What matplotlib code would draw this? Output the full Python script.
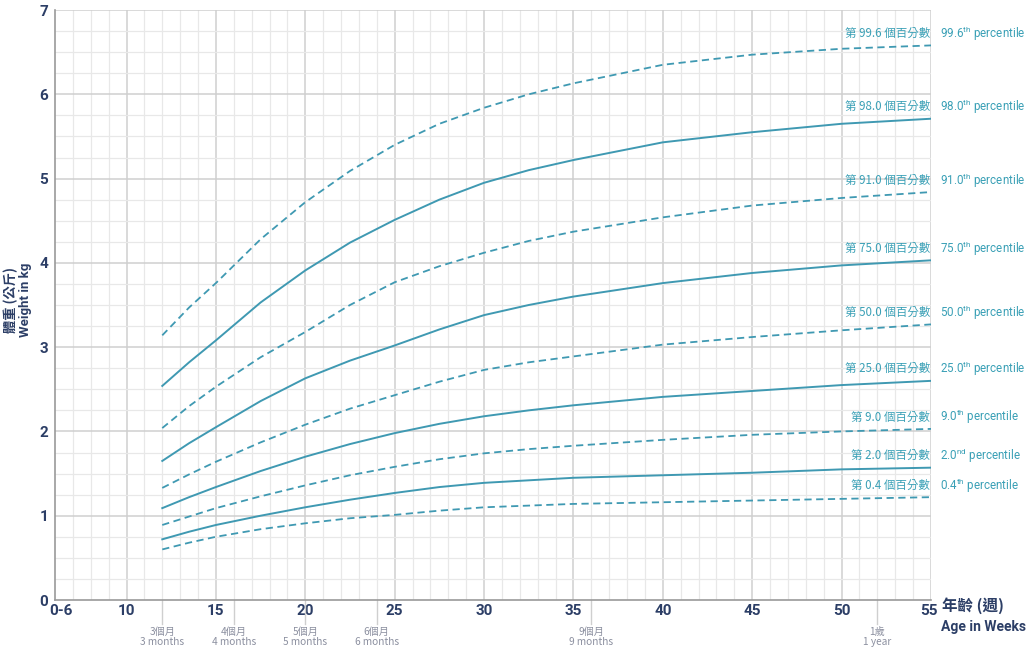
import matplotlib
matplotlib.use("Agg")
import matplotlib.pyplot as plt
import matplotlib.transforms as mtransforms

plt.rcParams['font.family'] = ['Noto Sans CJK TC', 'DejaVu Sans']
plt.rcParams['mathtext.fontset'] = 'custom'
plt.rcParams['mathtext.rm'] = 'Roboto'

# ---- data ----
weeks = [12, 13.5, 15, 17.5, 20, 22.5, 25, 27.5, 30, 32.5, 35, 40, 45, 50, 55]
p99_6 = [3.14, 3.47, 3.76, 4.28, 4.72, 5.09, 5.40, 5.65, 5.84, 6.00, 6.13, 6.35, 6.47, 6.54, 6.58]
p98_0 = [2.54, 2.82, 3.08, 3.53, 3.91, 4.24, 4.51, 4.75, 4.95, 5.10, 5.22, 5.43, 5.55, 5.65, 5.71]
p91_0 = [2.04, 2.30, 2.53, 2.88, 3.18, 3.50, 3.77, 3.96, 4.12, 4.26, 4.37, 4.54, 4.68, 4.77, 4.84]
p75_0 = [1.65, 1.86, 2.05, 2.36, 2.63, 2.84, 3.02, 3.21, 3.38, 3.50, 3.60, 3.76, 3.88, 3.97, 4.03]
p50_0 = [1.33, 1.49, 1.64, 1.87, 2.08, 2.27, 2.43, 2.59, 2.73, 2.82, 2.89, 3.03, 3.12, 3.20, 3.27]
p25_0 = [1.09, 1.22, 1.34, 1.53, 1.70, 1.85, 1.98, 2.09, 2.18, 2.25, 2.31, 2.41, 2.48, 2.55, 2.60]
p9_0 = [0.89, 0.99, 1.09, 1.23, 1.36, 1.48, 1.58, 1.67, 1.74, 1.79, 1.83, 1.90, 1.96, 2.00, 2.03]
p2_0 = [0.72, 0.81, 0.89, 1.00, 1.10, 1.19, 1.27, 1.34, 1.39, 1.42, 1.45, 1.48, 1.51, 1.55, 1.57]
p0_4 = [0.60, 0.68, 0.75, 0.84, 0.91, 0.97, 1.01, 1.06, 1.10, 1.12, 1.14, 1.16, 1.18, 1.20, 1.22]

series = [p99_6, p98_0, p91_0, p75_0, p50_0, p25_0, p9_0, p2_0, p0_4]
dashed = [True, False, True, False, True, False, True, False, True]
zh_labels = ['第 99.6 個百分數', '第 98.0 個百分數', '第 91.0 個百分數', '第 75.0 個百分數',
             '第 50.0 個百分數', '第 25.0 個百分數', '第 9.0 個百分數', '第 2.0 個百分數',
             '第 0.4 個百分數']
en_nums = ['99.6', '98.0', '91.0', '75.0', '50.0', '25.0', '9.0', '2.0', '0.4']
en_sups = ['th', 'th', 'th', 'th', 'th', 'th', 'th', 'nd', 'th']

xtick_vals = [6, 10, 15, 20, 25, 30, 35, 40, 45, 50, 55]
xtick_labels = ['0-6', '10', '15', '20', '25', '30', '35', '40', '45', '50', '55']
ytick_vals = [0, 1, 2, 3, 4, 5, 6, 7]

month_weeks = [12, 16, 20, 24, 36, 52]
month_labels = ['3個月\n3 months', '4個月\n4 months', '5個月\n5 months',
                '6個月\n6 months', '9個月\n9 months', '1歲\n1 year']

# ---- style ----
line_col = '#3f99b2'
label_col = '#3aa0b6'
navy = '#2c3e66'
gray_txt = '#8c90a0'

fig = plt.figure(figsize=(10.30, 6.51), dpi=100)
ax = fig.add_axes([55 / 1030, 1 - 600 / 651, (931 - 55) / 1030, (600 - 10) / 651])
ax.set_xlim(6, 55)
ax.set_ylim(0, 7)

# grid
for w in range(7, 56):
    major = (w % 5 == 0)
    ax.axvline(w, color='#cfcfcf' if major else '#e8e8e8', lw=1.1 if major else 0.9, zorder=0)
for i in range(1, 29):
    v = i * 0.25
    major = (i % 4 == 0)
    ax.axhline(v, color='#cfcfcf' if major else '#e8e8e8', lw=1.1 if major else 0.9, zorder=0)

for s in ['top', 'right']:
    ax.spines[s].set_visible(False)
for s in ['left', 'bottom']:
    ax.spines[s].set_color('#9a9a9a')
    ax.spines[s].set_linewidth(1.2)

ax.set_xticks(xtick_vals)
ax.set_xticklabels(xtick_labels)
ax.set_yticks(ytick_vals)
ax.tick_params(axis='both', length=0, colors=navy, labelsize=11)
ax.tick_params(axis='x', pad=3)
ax.tick_params(axis='y', pad=5)
for lab in ax.get_xticklabels() + ax.get_yticklabels():
    lab.set_fontweight('bold')
    lab.set_color(navy)
    lab.set_family(['Roboto', 'DejaVu Sans'])
first = ax.get_xticklabels()[0]
first.set_transform(first.get_transform() + mtransforms.ScaledTranslation(6 / 100, 0, fig.dpi_scale_trans))
last = ax.get_xticklabels()[-1]
last.set_transform(last.get_transform() + mtransforms.ScaledTranslation(-2 / 100, 0, fig.dpi_scale_trans))

# curves
for ys, d in zip(series, dashed):
    if d:
        ax.plot(weeks, ys, color=line_col, lw=1.3, linestyle=(0, (4, 2.5)), zorder=3)
    else:
        ax.plot(weeks, ys, color=line_col, lw=1.4, zorder=3)

# right-hand labels
off_zh = mtransforms.offset_copy(ax.transData, fig=fig, x=-1, y=12, units='dots')
off_en = mtransforms.offset_copy(ax.transData, fig=fig, x=9, y=12, units='dots')
for ys, zh, num, sup in zip(series, zh_labels, en_nums, en_sups):
    yend = ys[-1]
    ax.text(weeks[-1], yend, zh, transform=off_zh, ha='right', va='center',
            fontsize=8.3, color=label_col, clip_on=False)
    ax.text(weeks[-1], yend, num + r'$^{\mathrm{' + sup + r'}}$' + ' percentile',
            transform=off_en, ha='left', va='center', fontsize=8.4,
            color=label_col, clip_on=False, family=['Roboto', 'DejaVu Sans'])

# month markers
trans = mtransforms.blended_transform_factory(ax.transData, ax.transAxes)
for w, lab in zip(month_weeks, month_labels):
    ax.plot([w, w], [0, -0.04], transform=trans, color='#cfcfcf', lw=1.0, clip_on=False)
    ax.text(w, -0.045, lab, transform=trans, ha='center', va='top', fontsize=7.3,
            color=gray_txt, linespacing=1.0)

# axis titles
fig.text(942 / 1030, 1 - 606 / 651, '年齡 (週)', ha='left', va='center',
         fontsize=11.2, fontweight='bold', color=navy)
fig.text(941 / 1030, 1 - 627 / 651, 'Age in Weeks', ha='left', va='center',
         fontsize=10.0, fontweight='bold', color=navy, family=['Roboto', 'DejaVu Sans'])
fig.text(11 / 1030, 1 - 300 / 651, '體重 (公斤)', rotation=90, ha='center', va='center',
         fontsize=9.5, fontweight='bold', color=navy)
fig.text(26 / 1030, 1 - 300 / 651, 'Weight in kg', rotation=90, ha='center', va='center',
         fontsize=9.5, fontweight='bold', color=navy, family=['Roboto', 'DejaVu Sans'])

fig.savefig('out.png', dpi=100, facecolor='white')
